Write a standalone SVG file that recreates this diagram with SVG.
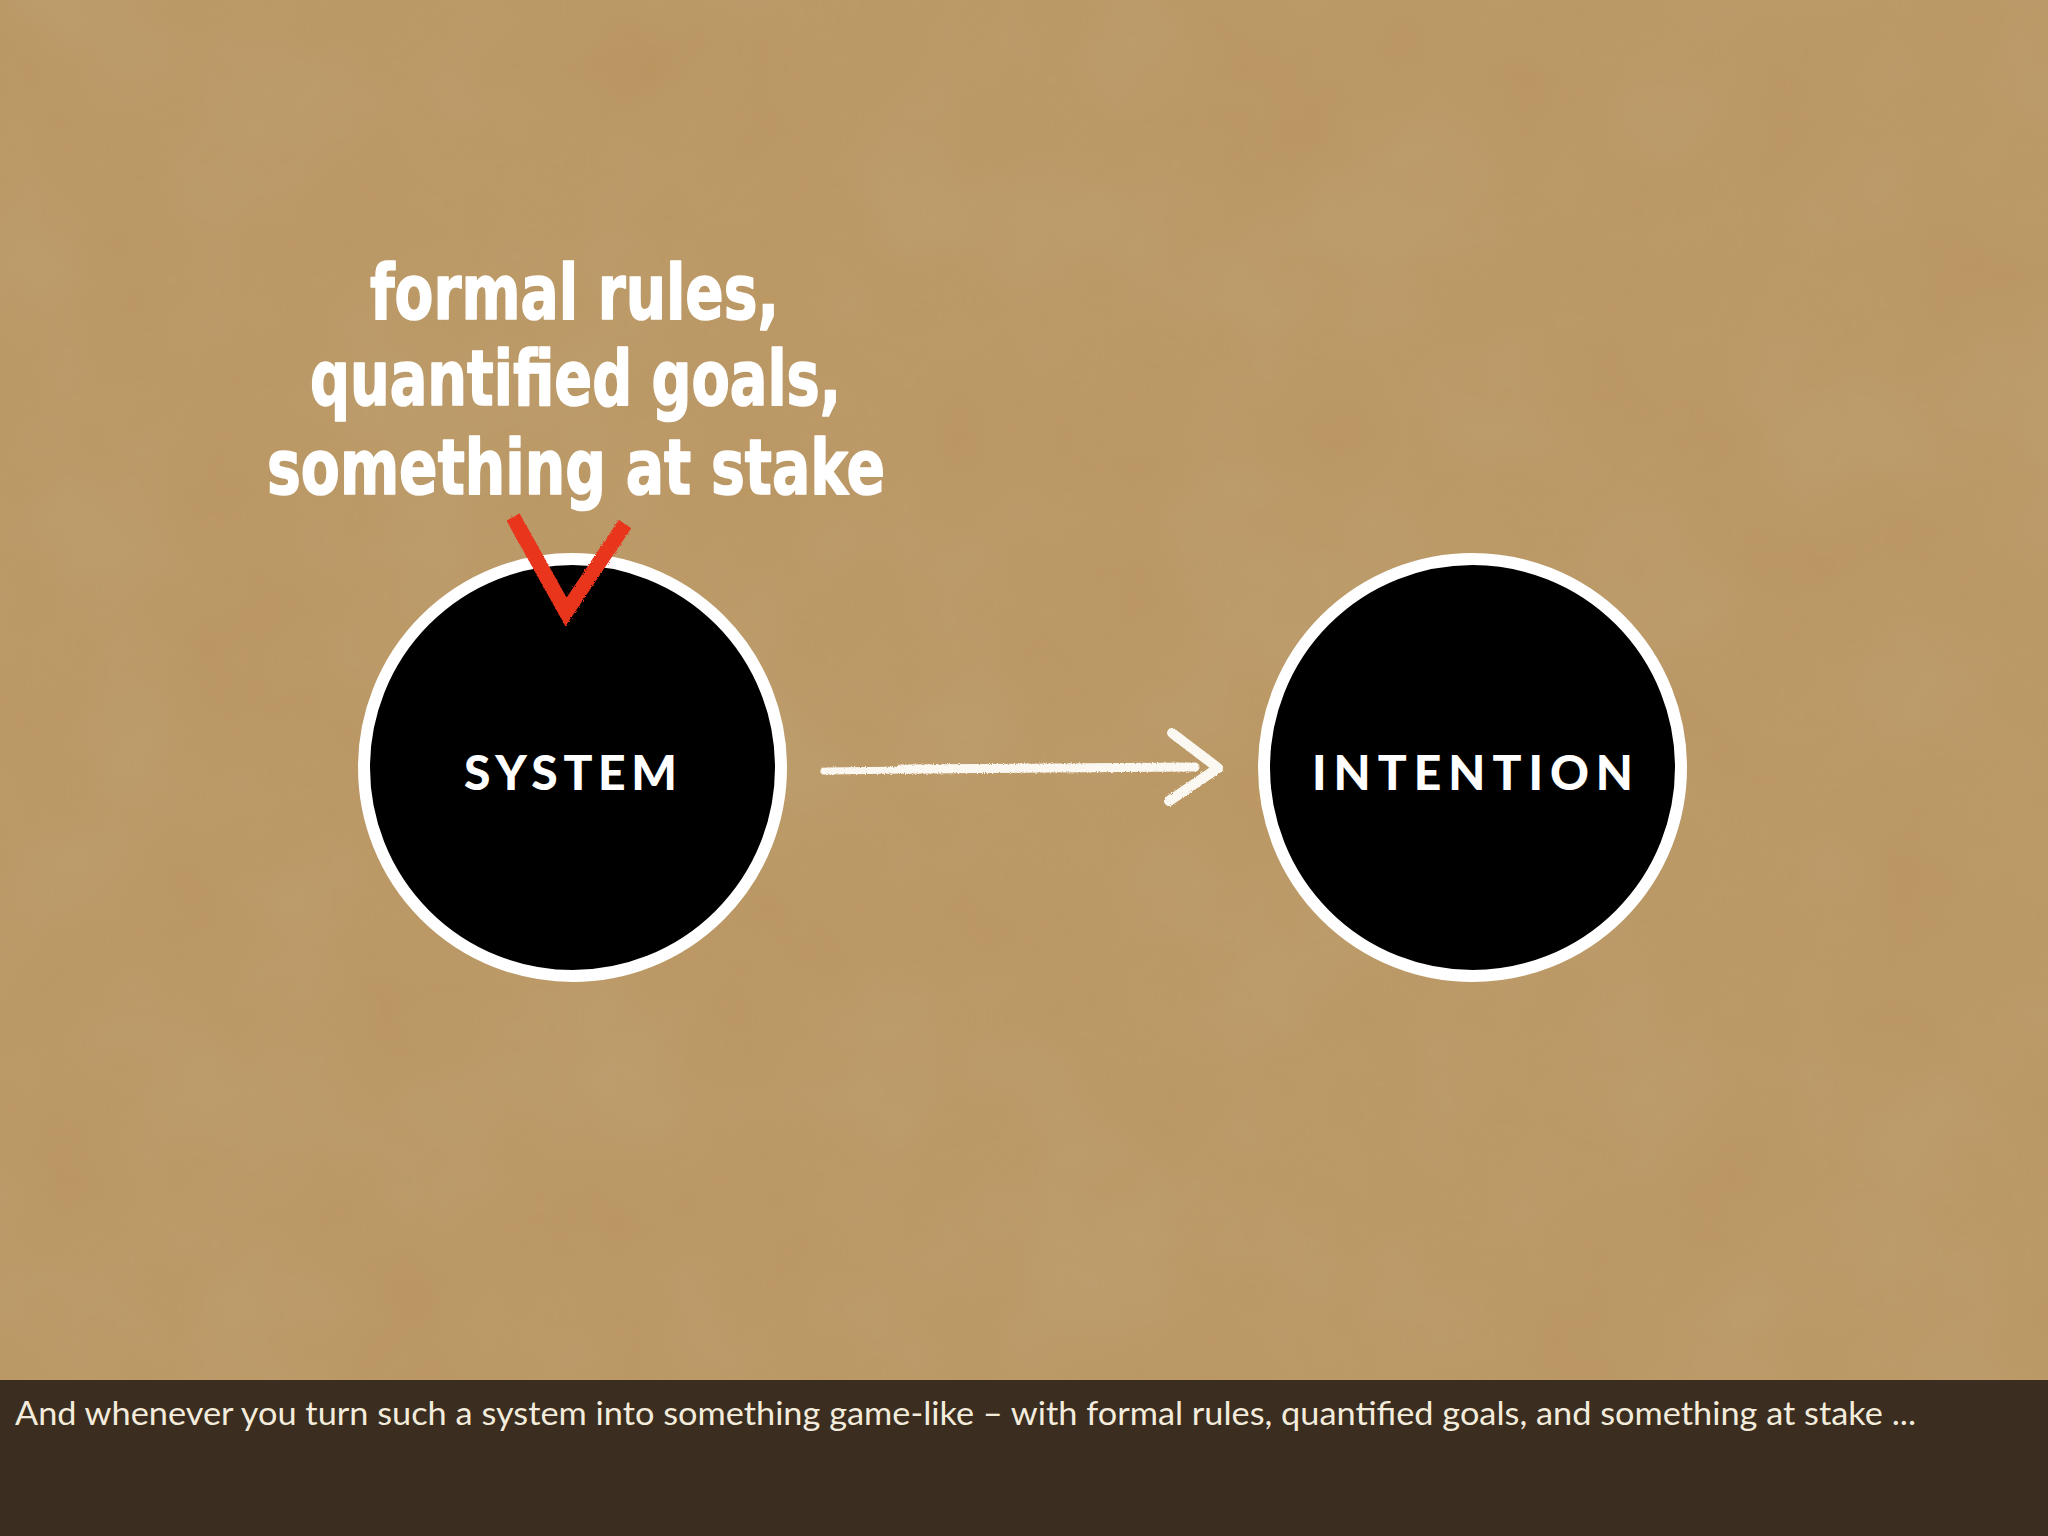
<svg xmlns="http://www.w3.org/2000/svg" width="2048" height="1536" viewBox="0 0 2048 1536">
  <defs>
    <filter id="paper" x="0" y="0" width="100%" height="100%">
      <feTurbulence type="fractalNoise" baseFrequency="0.006" numOctaves="4" seed="7" result="n"/>
      <feColorMatrix in="n" type="matrix" values="0 0 0 0 0.60  0 0 0 0 0.47  0 0 0 0 0.30  0 0 0 0.55 0"/>
    </filter>
    <filter id="chalk" x="-5%" y="-50%" width="110%" height="200%">
      <feTurbulence type="fractalNoise" baseFrequency="0.9" numOctaves="2" seed="3" result="t"/>
      <feDisplacementMap in="SourceGraphic" in2="t" scale="3"/>
    </filter>
    <style>
      .ring { fill: #000; stroke: #fff; stroke-width: 12; }
      .nodelabel { fill: #fff; font-family: Lato, "Open Sans", "Liberation Sans", sans-serif; font-weight: 900; font-size: 48px; }
      .hand { fill: #fff; stroke: #fff; stroke-width: 1.5; stroke-linejoin: round; font-family: "Liberation Sans Narrow", "DejaVu Sans Condensed", "Liberation Sans", sans-serif; font-weight: 700; font-size: 76px; }
      .caption { fill: #f3ecdc; font-family: Lato, "Open Sans", "Liberation Sans", sans-serif; font-size: 32px; }
      .check { fill: none; stroke: #e8341c; stroke-width: 15; stroke-linecap: butt; }
      .arrowstroke { fill: none; stroke: #fbf8f2; stroke-linecap: round; stroke-linejoin: round; }
    </style>
  </defs>

  <!-- background paper -->
  <rect x="0" y="0" width="2048" height="1536" fill="#b99560"/>
  <rect x="0" y="0" width="2048" height="1380" filter="url(#paper)" opacity="0.5"/>

  <!-- connectors -->
  <g id="connectors">
    <g id="edge-system-intention" filter="url(#chalk)">
      <path class="arrowstroke" d="M824 771 L1000 769 L1195 767" stroke-width="7"/>
      <path class="arrowstroke" d="M900 769 L1195 767" stroke-width="9"/>
      <path class="arrowstroke" d="M1172 733 L1218 768 L1169 801" stroke-width="10"/>
    </g>
  </g>

  <!-- node: SYSTEM -->
  <g id="node-system">
    <circle class="ring" cx="572.5" cy="767.5" r="208.5"/>
    <text class="nodelabel" x="464" y="790" textLength="213" lengthAdjust="spacing">SYSTEM</text>
  </g>

  <!-- node: INTENTION -->
  <g id="node-intention">
    <circle class="ring" cx="1472.5" cy="767.5" r="208.5"/>
    <text class="nodelabel" x="1312" y="790" textLength="321" lengthAdjust="spacing">INTENTION</text>
  </g>

  <!-- annotation -->
  <g id="annotation">
    <text class="hand" x="370" y="319" textLength="409" lengthAdjust="spacingAndGlyphs">formal rules,</text>
    <text class="hand" x="310" y="405" textLength="531" lengthAdjust="spacingAndGlyphs">quantified goals,</text>
    <text class="hand" x="267" y="494" textLength="618" lengthAdjust="spacingAndGlyphs">something at stake</text>
    <g id="checkmark" filter="url(#chalk)">
      <path class="check" d="M513 517 L566 612 L625 524"/>
    </g>
  </g>

  <!-- caption bar -->
  <g id="caption">
    <rect x="0" y="1380" width="2048" height="156" fill="#3b2d1f"/>
    <text class="caption" x="15" y="1425" textLength="1901" lengthAdjust="spacingAndGlyphs">And whenever you turn such a system into something game-like – with formal rules, quantified goals, and something at stake ...</text>
  </g>
</svg>
